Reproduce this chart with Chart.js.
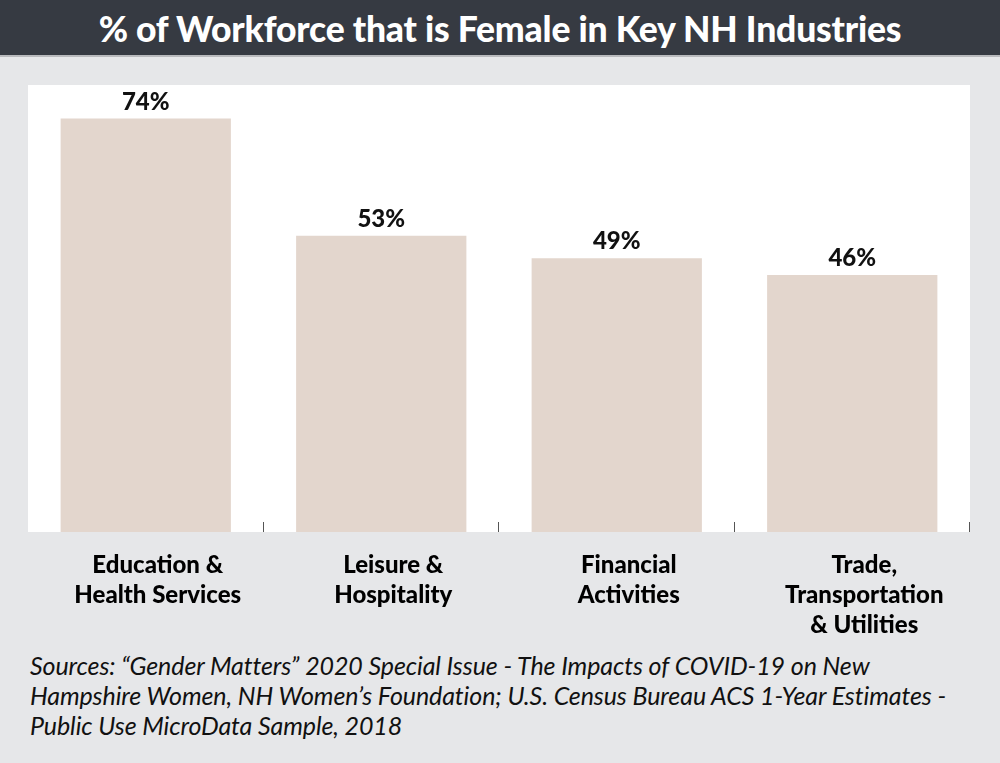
<!DOCTYPE html>
<html>
<head>
<meta charset="utf-8">
<script src="https://cdn.jsdelivr.net/npm/chart.js@4"></script>
<style>
  html, body { margin:0; padding:0; width:1000px; height:763px; background:#e6e7e9; overflow:hidden; }
  #head { position:absolute; left:0; top:0; width:1000px; height:55px; background:#363a42;
          border-bottom:2px solid #b9babd; color:#fff; font:900 35.5px Lato, sans-serif;
          text-align:center; line-height:58px; letter-spacing:-0.2px; }
  #wrap { position:absolute; left:0; top:60px; width:1000px; height:590px; }
  #src { position:absolute; left:30px; top:650px; width:960px; color:#111;
         font:italic 25px Lato, sans-serif; line-height:30px; letter-spacing:-0.1px; white-space:nowrap; }
</style>
</head>
<body>
<div id="head">% of Workforce that is Female in Key NH Industries</div>
<div id="wrap"><canvas id="c"></canvas></div>
<div id="src">Sources: “Gender Matters” 2020 Special Issue - The Impacts of COVID-19 on New<br>Hampshire Women, NH Women’s Foundation; U.S. Census Bureau ACS 1-Year Estimates -<br>Public Use MicroData Sample, 2018</div>
<script>
// ── Data ──────────────────────────────────────────────────────────────────────
const industries = [
  ["Education &", "Health Services"],
  ["Leisure &", "Hospitality"],
  ["Financial", "Activities"],
  ["Trade,", "Transportation", "& Utilities"],
];
const femaleShare = [74, 53, 49, 46];

const BAR_COLOR = "#e3d6cd";

// ── Plugins ───────────────────────────────────────────────────────────────────
// White panel behind the plot area
const panelBg = {
  id: "panelBg",
  beforeDraw(chart) {
    const { ctx, chartArea: a } = chart;
    ctx.save();
    ctx.fillStyle = "#ffffff";
    ctx.fillRect(a.left, a.top, a.right - a.left, a.bottom - a.top);
    ctx.restore();
  },
};

// Small inward ticks at the right edge of each category
const innerTicks = {
  id: "innerTicks",
  afterDatasetsDraw(chart) {
    const { ctx, chartArea: a, scales: { x } } = chart;
    const half = (x.getPixelForValue(1) - x.getPixelForValue(0)) / 2;
    ctx.save();
    ctx.strokeStyle = "#555";
    ctx.lineWidth = 1;
    industries.forEach((_, i) => {
      const px = Math.round(x.getPixelForValue(i) + half) - 0.5;
      ctx.beginPath();
      ctx.moveTo(px, a.bottom - 10);
      ctx.lineTo(px, a.bottom);
      ctx.stroke();
    });
    ctx.restore();
  },
};

// Percent labels above each bar
const valueLabels = {
  id: "valueLabels",
  afterDatasetsDraw(chart) {
    const { ctx } = chart;
    ctx.save();
    ctx.fillStyle = "#111";
    ctx.font = "900 24px Lato, sans-serif";
    ctx.textAlign = "center";
    ctx.textBaseline = "alphabetic";
    chart.getDatasetMeta(0).data.forEach((bar, i) => {
      ctx.fillText(`${femaleShare[i]}%`, bar.x, bar.y - 9);
    });
    ctx.restore();
  },
};

new Chart(document.getElementById("c"), {
  type: "bar",
  data: {
    labels: industries,
    datasets: [{
      data: femaleShare,
      backgroundColor: BAR_COLOR,
      borderWidth: 0,
      barPercentage: 0.723,
      categoryPercentage: 1,
    }],
  },
  options: {
    responsive: true,
    maintainAspectRatio: false,
    animation: false,
    layout: { padding: { left: 28, right: 30, top: 25, bottom: 0 } },
    plugins: { legend: { display: false }, tooltip: { enabled: false } },
    scales: {
      x: {
        grid: { display: false },
        border: { display: false },
        ticks: {
          color: "#000",
          font: { family: "Lato, sans-serif", size: 24, weight: "900", lineHeight: 1.25 },
          padding: 10,
          labelOffset: 12,
          maxRotation: 0,
          autoSkip: false,
        },
      },
      y: {
        display: false,
        min: 0,
        max: 80,
      },
    },
  },
  plugins: [panelBg, innerTicks, valueLabels],
});
</script>
</body>
</html>
